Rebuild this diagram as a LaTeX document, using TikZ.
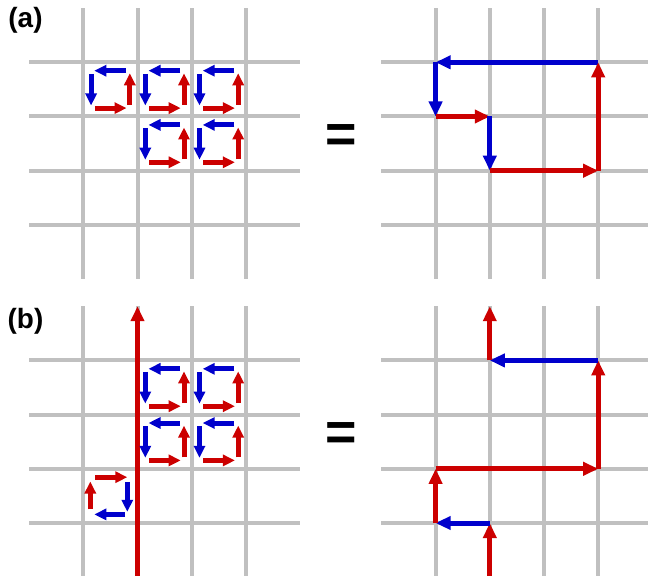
\documentclass[tikz,border=0pt]{standalone}
\usepackage{fontspec}
\setmainfont{Liberation Sans}
\usetikzlibrary{arrows.meta}
\definecolor{gridgray}{RGB}{192,192,192}
\definecolor{ared}{RGB}{204,0,0}
\definecolor{ablue}{RGB}{0,0,204}
\tikzset{
  gridline/.style={gridgray, line width=4bp},
  sarr/.style={line width=5bp, -{Triangle[length=12bp,width=11bp]}},
  barr/.style={line width=5bp, -{Triangle[length=15bp,width=13bp]}},
  lbl/.style={font=\fontsize{28}{28}\selectfont\bfseries, inner sep=0pt},
  eqsign/.style={font=\fontsize{54}{54}\selectfont\bfseries, inner sep=0pt},
}
% plaquette, counter-clockwise on screen; #1,#2 = top-left corner of the cell
\newcommand\plaqA[2]{%
  \draw[sarr,ablue] (#1+42.7,#2+8.4) -- (#1+11,#2+8.4);
  \draw[sarr,ablue] (#1+7.8,#2+11.5) -- (#1+7.8,#2+43.2);
  \draw[sarr,ared]  (#1+11.5,#2+45.8) -- (#1+43.2,#2+45.8);
  \draw[sarr,ared]  (#1+46.5,#2+42.7) -- (#1+46.5,#2+11);
}
% plaquette, clockwise on screen
\newcommand\plaqB[2]{%
  \draw[sarr,ared]  (#1+11.7,#2+8.4) -- (#1+44,#2+8.4);
  \draw[sarr,ablue] (#1+44,#2+13) -- (#1+44,#2+43);
  \draw[sarr,ablue] (#1+41.7,#2+45.6) -- (#1+11,#2+45.6);
  \draw[sarr,ared]  (#1+7,#2+40.6) -- (#1+7,#2+12.7);
}
\begin{document}
\begin{tikzpicture}[x=1bp,y=-1bp]
\useasboundingbox (0,0) rectangle (648,576);
\clip (0,0) rectangle (648,576);
\fill[white] (0,0) rectangle (648,576);
% grids
\foreach \gx/\gy in {83.3/62.3, 435.6/62.3, 83.3/360.4, 435.6/360.4} {
  \foreach \i in {0,...,3} {
    \draw[gridline] (\gx+\i*54.2, \gy-54.2) -- (\gx+\i*54.2, \gy+4*54.2);
    \draw[gridline] (\gx-54.2, \gy+\i*54.2) -- (\gx+4*54.2, \gy+\i*54.2);
  }
}
% labels
\node[lbl] (la) at (25.5,20) {(a)};
\node[lbl] (lb) at (25.5,321) {(b)};
\node[eqsign] (eqa) at (341.5,138.3) {=};
\node[eqsign] (eqb) at (341.5,436.4) {=};
% (a) left: plaquettes
\plaqA{83.3}{62.3}
\plaqA{137.5}{62.3}
\plaqA{191.7}{62.3}
\plaqA{137.5}{116.5}
\plaqA{191.7}{116.5}
% (a) right: loop
\coordinate (a1) at (598.2,62.3);
\coordinate (a2) at (435.6,62.3);
\coordinate (a3) at (435.6,116.5);
\coordinate (a4) at (489.8,116.5);
\coordinate (a5) at (489.8,170.7);
\coordinate (a6) at (598.2,170.7);
\draw[barr,ablue] (a1) -- (a2);
\draw[barr,ablue] (a2) -- (a3);
\draw[barr,ared]  (a3) -- (a4);
\draw[barr,ablue] (a4) -- (a5);
\draw[barr,ared]  (a5) -- (a6);
\draw[barr,ared]  (a6) -- (a1);
% (b) left
\coordinate (sb) at (137.5,578);
\coordinate (tb) at (137.5,306.2);
\draw[barr,ared] (sb) -- (tb);
\plaqA{137.5}{360.4}
\plaqA{191.7}{360.4}
\plaqA{137.5}{414.6}
\plaqA{191.7}{414.6}
\plaqB{83.3}{468.8}
% (b) right: string
\coordinate (b0) at (489.8,578);
\coordinate (b1) at (489.8,523.0);
\coordinate (b2) at (435.6,523.0);
\coordinate (b3) at (435.6,468.8);
\coordinate (b4) at (598.2,468.8);
\coordinate (b5) at (598.2,360.4);
\coordinate (b6) at (489.8,360.4);
\coordinate (b7) at (489.8,306.2);
\draw[barr,ared]  (b0) -- (b1);
\draw[barr,ablue] (b1) -- (b2);
\draw[barr,ared]  (b2) -- (b3);
\draw[barr,ared]  (b3) -- (b4);
\draw[barr,ared]  (b4) -- (b5);
\draw[barr,ablue] (b5) -- (b6);
\draw[barr,ared]  (b6) -- (b7);
\end{tikzpicture}
\end{document}
